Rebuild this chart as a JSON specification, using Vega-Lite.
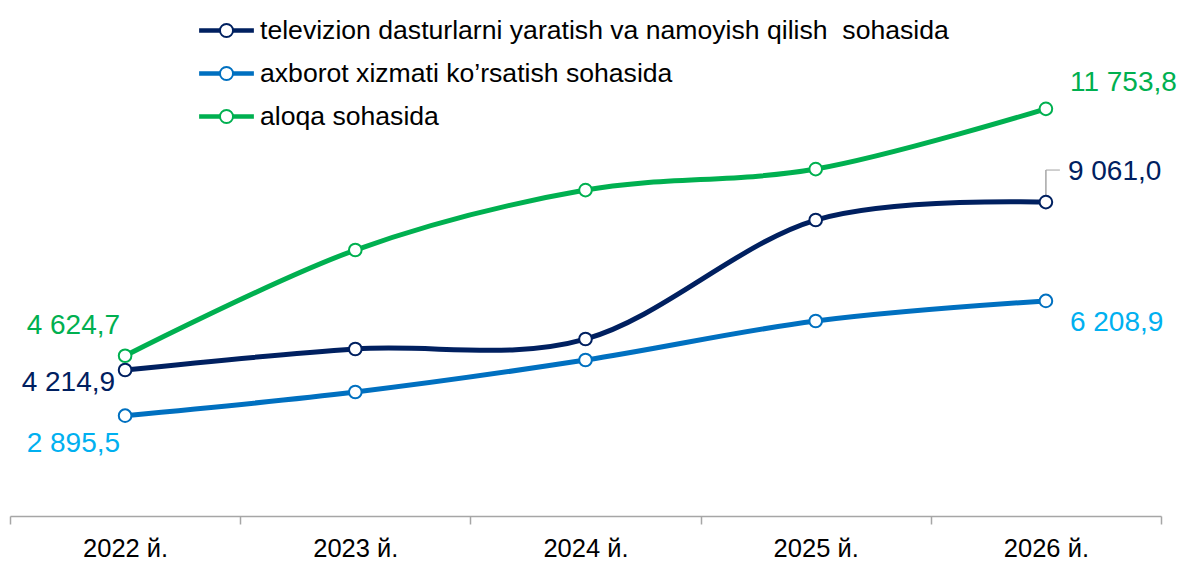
{
  "$schema": "https://vega.github.io/schema/vega-lite/v6.json",
  "width": 1151,
  "height": 485,
  "autosize": {"type": "none"},
  "padding": {"left": 10, "top": 31, "right": 23, "bottom": 47},
  "background": "white",
  "config": {"view": {"stroke": null}, "font": "Liberation Sans"},
  "layer": [
    {
      "data": {"values": [{"year": "2026 й.", "value": 9061.0, "top": 9986}]},
      "mark": {"type": "rule", "color": "#A6A6A6", "strokeWidth": 1.5},
      "encoding": {
        "x": {"field": "year", "type": "ordinal", "bandPosition": 0.5},
        "y": {"field": "value", "type": "quantitative"},
        "y2": {"field": "top"}
      }
    },
    {
      "data": {"values": [{"year": "2026 й.", "value": 9061.0, "top": 9986}]},
      "mark": {"type": "tick", "orient": "horizontal", "color": "#A6A6A6", "thickness": 1.5, "size": 14, "xOffset": 7},
      "encoding": {
        "x": {"field": "year", "type": "ordinal", "bandPosition": 0.5},
        "y": {"field": "top", "type": "quantitative"}
      }
    },
    {
      "data": {"values": [
        {"year": "2022 й.", "series": "televizion dasturlarni yaratish va namoyish qilish  sohasida", "value": 4214.9},
        {"year": "2023 й.", "series": "televizion dasturlarni yaratish va namoyish qilish  sohasida", "value": 4820},
        {"year": "2024 й.", "series": "televizion dasturlarni yaratish va namoyish qilish  sohasida", "value": 5108},
        {"year": "2025 й.", "series": "televizion dasturlarni yaratish va namoyish qilish  sohasida", "value": 8543},
        {"year": "2026 й.", "series": "televizion dasturlarni yaratish va namoyish qilish  sohasida", "value": 9061.0},
        {"year": "2022 й.", "series": "axborot xizmati ko’rsatish sohasida", "value": 2895.5},
        {"year": "2023 й.", "series": "axborot xizmati ko’rsatish sohasida", "value": 3579},
        {"year": "2024 й.", "series": "axborot xizmati ko’rsatish sohasida", "value": 4502},
        {"year": "2025 й.", "series": "axborot xizmati ko’rsatish sohasida", "value": 5628},
        {"year": "2026 й.", "series": "axborot xizmati ko’rsatish sohasida", "value": 6208.9},
        {"year": "2022 й.", "series": " aloqa sohasida", "value": 4624.7},
        {"year": "2023 й.", "series": " aloqa sohasida", "value": 7677},
        {"year": "2024 й.", "series": " aloqa sohasida", "value": 9408},
        {"year": "2025 й.", "series": " aloqa sohasida", "value": 10014},
        {"year": "2026 й.", "series": " aloqa sohasida", "value": 11753.8}
      ]},
      "layer": [
        {
          "mark": {"type": "line", "interpolate": "cardinal", "strokeWidth": 5},
          "encoding": {
            "x": {
              "field": "year", "type": "ordinal", "bandPosition": 0.5,
              "scale": {"type": "band", "paddingInner": 0, "paddingOuter": 0, "domain": ["2022 й.", "2023 й.", "2024 й.", "2025 й.", "2026 й."]},
              "axis": {
                "title": null, "tickBand": "extent", "domainColor": "#A6A6A6", "domainWidth": 1.5,
                "tickColor": "#A6A6A6", "tickWidth": 1.5, "tickSize": 8,
                "labelFontSize": 25.5, "labelColor": "#000000", "labelPadding": 12, "labelAngle": 0,
                "labelAlign": "center", "labelBaseline": "top",
                "labelFont": "Liberation Sans"
              }
            },
            "y": {"field": "value", "type": "quantitative", "scale": {"domain": [0, 14000], "nice": false}, "axis": null},
            "color": {
              "field": "series", "type": "nominal",
              "scale": {
                "domain": ["televizion dasturlarni yaratish va namoyish qilish  sohasida", "axborot xizmati ko’rsatish sohasida", " aloqa sohasida"],
                "range": ["#002060", "#0070C0", "#00B050"]
              },
              "legend": {
                "title": null, "orient": "none", "legendX": 188, "legendY": -29,
                "direction": "vertical", "padding": 0, "rowPadding": 0,
                "symbolType": "M-1,-0.05L-0.24,-0.05M-1,0L-0.24,0M-1,0.05L-0.24,0.05M0.24,-0.05L1,-0.05M0.24,0L1,0M0.24,0.05L1,0.05M0.24,0A0.24,0.24 0 1,1 -0.24,0A0.24,0.24 0 1,1 0.24,0Z",
                "symbolSize": 3000, "symbolStrokeWidth": 2, "symbolFillColor": "white", "symbolOpacity": 1,
                "labelFontSize": 26.6, "labelColor": "#000000", "labelLimit": 0, "labelOffset": 5,
                "labelFont": "Liberation Sans",
                "labelExpr": "replace(datum.label, '  ', '\u00a0 ')"
              }
            }
          }
        },
        {
          "mark": {"type": "point", "shape": "circle", "filled": true, "fill": "white", "size": 160, "strokeWidth": 2, "opacity": 1},
          "encoding": {
            "x": {"field": "year", "type": "ordinal", "bandPosition": 0.5},
            "y": {"field": "value", "type": "quantitative"},
            "stroke": {
              "field": "series", "type": "nominal", "legend": null,
              "scale": {
                "domain": ["televizion dasturlarni yaratish va namoyish qilish  sohasida", "axborot xizmati ko’rsatish sohasida", " aloqa sohasida"],
                "range": ["#002060", "#0070C0", "#00B050"]
              }
            }
          }
        }
      ]
    },
    {
      "data": {"values": [{"year": "2022 й.", "value": 4624.7, "text": "4 624,7"}]},
      "mark": {"type": "text", "align": "right", "baseline": "middle", "dx": -5, "dy": -30, "fontSize": 28, "color": "#00B050"},
      "encoding": {"x": {"field": "year", "type": "ordinal", "bandPosition": 0.5}, "y": {"field": "value", "type": "quantitative"}, "text": {"field": "text"}}
    },
    {
      "data": {"values": [{"year": "2022 й.", "value": 4214.9, "text": "4 214,9"}]},
      "mark": {"type": "text", "align": "right", "baseline": "middle", "dx": -10, "dy": 13, "fontSize": 28, "color": "#002060"},
      "encoding": {"x": {"field": "year", "type": "ordinal", "bandPosition": 0.5}, "y": {"field": "value", "type": "quantitative"}, "text": {"field": "text"}}
    },
    {
      "data": {"values": [{"year": "2022 й.", "value": 2895.5, "text": "2 895,5"}]},
      "mark": {"type": "text", "align": "right", "baseline": "middle", "dx": -5, "dy": 28, "fontSize": 28, "color": "#00B0F0"},
      "encoding": {"x": {"field": "year", "type": "ordinal", "bandPosition": 0.5}, "y": {"field": "value", "type": "quantitative"}, "text": {"field": "text"}}
    },
    {
      "data": {"values": [{"year": "2026 й.", "value": 11753.8, "text": "11 753,8"}]},
      "mark": {"type": "text", "align": "left", "baseline": "middle", "dx": 24, "dy": -26, "fontSize": 28, "color": "#00B050"},
      "encoding": {"x": {"field": "year", "type": "ordinal", "bandPosition": 0.5}, "y": {"field": "value", "type": "quantitative"}, "text": {"field": "text"}}
    },
    {
      "data": {"values": [{"year": "2026 й.", "value": 9061.0, "text": "9 061,0"}]},
      "mark": {"type": "text", "align": "left", "baseline": "middle", "dx": 22, "dy": -30, "fontSize": 28, "color": "#002060"},
      "encoding": {"x": {"field": "year", "type": "ordinal", "bandPosition": 0.5}, "y": {"field": "value", "type": "quantitative"}, "text": {"field": "text"}}
    },
    {
      "data": {"values": [{"year": "2026 й.", "value": 6208.9, "text": "6 208,9"}]},
      "mark": {"type": "text", "align": "left", "baseline": "middle", "dx": 24, "dy": 22, "fontSize": 28, "color": "#00B0F0"},
      "encoding": {"x": {"field": "year", "type": "ordinal", "bandPosition": 0.5}, "y": {"field": "value", "type": "quantitative"}, "text": {"field": "text"}}
    }
  ]
}
